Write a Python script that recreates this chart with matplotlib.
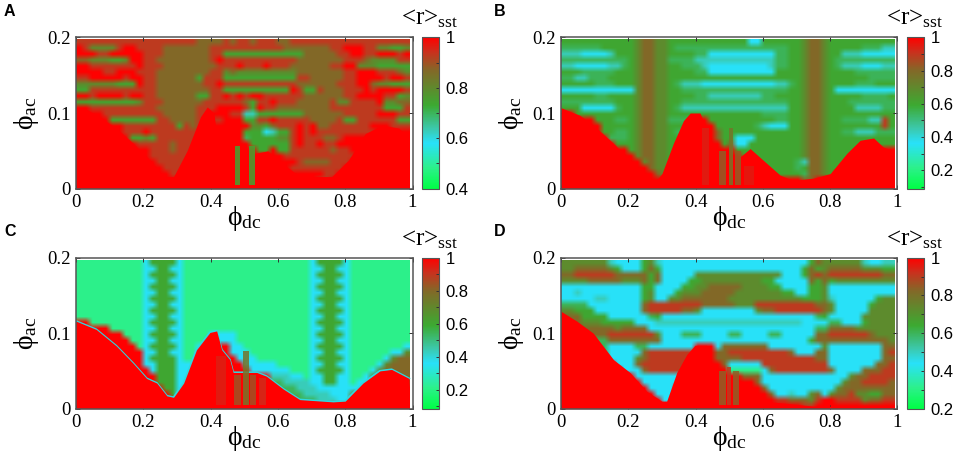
import numpy as np
import matplotlib
matplotlib.use('Agg')
import matplotlib.pyplot as plt
from matplotlib.colors import LinearSegmentedColormap

plt.rcParams['font.family'] = ['Liberation Serif', 'DejaVu Serif']
plt.rcParams['mathtext.fontset'] = 'custom'
plt.rcParams['mathtext.rm'] = 'Liberation Serif'
plt.rcParams['mathtext.it'] = 'Liberation Serif'

# levels, one digit per cell, rows from phi_ac=0.197 down to 0
# each digit is a step on the colour scale (see LEVELS)
LEVELS = [0.0, 0.14, 0.3, 0.38, 0.5, 0.56, 0.66, 0.78, 0.88, 1.0]

grid_a = [
    "8888888888 8888888877 7787887888 7788888888 8888888888",
    "9866668998 8887777777 8888888888 8777777788 9998866556",
    "9998899999 8887777777 8855555555 5555777778 8998899989",
    "7766655699 8877777777 8988888888 8887777777 8887666688",
    "9988888889 8887777777 7888988898 8877777788 9966655555",
    "9999889998 8877777777 8867666666 6667777777 8899988876",
    "8899999899 8877777758 8855555555 5558877777 8899998998",
    "6666665559 8877777778 8988888888 8887777778 8899766555",
    "5588888888 8877777777 8855555555 5598558777 8889899998",
    "9989999899 8877777755 8898989988 8888777777 8899998856",
    "5555555556 8887777778 8888875889 8887777786 6888896677",
    "9988888888 8877777788 8999985988 7777777788 8888885558",
    "9999888888 8887777788 9998833555 5555777777 8888899988",
    "9999955555 5588777788 8899955889 8888877778 5588888855",
    "9999999888 8888858788 9999996657 8889897788 8888999888",
    "9999999888 9888888888 9999955523 5589898888 8888899999",
    "9999999955 6588888889 9999945555 6689888778 9999999999",
    "9999999998 8888788889 9999995555 5589889889 9999999999",
    "9999999999 9888788889 9999999559 5588888878 8999999999",
    "9999999999 9888888999 9999999999 9888888888 8899999999",
    "9999999999 9988888999 9999999999 9998777788 8999999999",
    "9999999999 9998888999 9999999999 9988888888 9999999999",
    "9999999999 9999889999 9999999999 9999999889 9999999999",
    "9999999999 9999999999 9999999999 9999998899 9999999999",
    "9999999999 9999999999 9999999999 9997767779 7999999999",
]

grid_b = [
    "5555555555 5677665555 5555555522 5555556776 5555555555",
    "4444445555 5677665444 4444444444 4444556776 5555544433",
    "3332222355 5677665555 4422222222 2244556776 5533322222",
    "4444444444 5677664444 3333333333 3344556776 5444444444",
    "3322222334 5677665544 4322222222 2344556776 5433322233",
    "5554444455 5677665555 4422222222 2255556776 5555444444",
    "4433444555 5677665555 5555555555 5555556776 5555554444",
    "5555544455 5677665433 3222222222 2233456776 5555444555",
    "2222222222 2677665544 4444444444 4444556776 5222222222",
    "5555544555 5677665555 4433333333 4455556776 5555544445",
    "4444444455 5677665544 4444444444 4444556776 5554444444",
    "5552222245 5677665433 3333333333 3333556776 5555333344",
    "9955555555 5677665555 5555555555 4444556776 5555555555",
    "9999955544 5677664444 9955555555 5544556776 5544443385",
    "9999995555 5677665555 9995555554 3222556776 5555555585",
    "9999995544 5677665444 9997555555 5555556776 5544333444",
    "9999999444 5677665555 9997552225 5555556776 5555555555",
    "9999999955 5677665555 9999572255 5555556776 5555555555",
    "9999999999 5677665555 9999995555 5555556776 5555599999",
    "9999999999 9677665555 9999999555 5555556776 5555999999",
    "9999999999 9967665555 9999999955 5555543776 5559999999",
    "9999999999 9997665555 9999999995 5555545776 5599999999",
    "9999999999 9999765599 9999999999 9555554776 5999999999",
    "9999999999 9999999999 9999999999 9999997799 9999999999",
    "9999999999 9999999999 9999999999 9999999999 9999999989",
]

grid_c = [
    "1111111111 2555521111 1111111111 1111125555 2111111111",
    "1111111111 2255221111 1111111111 1111122552 2111111111",
    "1111111111 2555521111 1111111111 1111125555 2111111111",
    "1111111111 2255221111 1111111111 1111122552 2111111111",
    "1111111111 2555521111 1111111111 1111125555 2111111111",
    "1111111111 2255221111 1111111111 1111122552 2111111111",
    "1111111111 2555521111 1111111111 1111125555 2111111111",
    "1111111111 2255221111 1111111111 1111122552 2111111111",
    "1111111111 2555521111 1111111111 1111125555 2111111111",
    "1111111111 2255221111 1111111111 1111122552 2111111111",
    "9911111111 2555521111 1111111111 1111125555 2111111111",
    "9999911111 2255221111 1111111111 1111122552 2111111111",
    "9999999111 2555521111 2222111111 1111125555 2111111111",
    "9999999911 2255221111 2222111111 1111122552 2111111111",
    "9999999991 2555521122 9992211111 1111125555 2111111112",
    "9999999999 2255221122 9992221111 1111122552 2111111226",
    "9999999999 2555521122 9999222111 1111125555 2111112677",
    "9999999999 2255522222 9999922222 1111122552 2111126777",
    "9999999999 9255522222 9999992222 2211125555 2111267777",
    "9999999999 9955522222 9999999993 3322122552 2112677777",
    "9999999999 9955522222 9999999994 4333322552 2122677777",
    "9999999999 9995522222 9999999999 4443332222 2226799999",
    "9999999999 9999522222 9999999999 9444333322 2669999999",
    "9999999999 9999999999 9999999999 9994443332 2999999999",
    "9999999999 9999999999 9999999999 9999999999 9999999999",
]

grid_d = [
    "6666666322 2256322222 2222222222 2222222576 6666632233",
    "6677777652 2257522222 2222222222 2222225756 7777766655",
    "7788888877 7775722222 6666666666 6662225787 8888888877",
    "6666777776 6675722225 5666666666 5522222757 5666666666",
    "2222222222 2255222255 6677777666 6552222556 2222222222",
    "2232222222 2256222566 6777776666 6665522556 2222222222",
    "2222233222 2256226677 7777766666 6666665556 3222222566",
    "4444222222 2278888888 8777776668 8888888877 6222225666",
    "6655522222 2278888877 6222222226 7788888887 6222226666",
    "7775555222 2224522222 2222222222 2222222245 2222266666",
    "7776665555 5222333333 3333333333 3333332222 4422256666",
    "9977777767 7772222222 2222222222 2222222244 7777666666",
    "9999777888 8888622244 4222244222 2442222277 8888887666",
    "9999744777 7777722222 2222222222 2222222577 7777777776",
    "9999944222 2442222222 9992777777 7222222226 2222222277",
    "9999994222 2278888888 9997788888 8888722277 2222222278",
    "9999999222 2678888888 9997777888 8888888877 2222222277",
    "9999999922 2788888888 9999722222 8888888888 2222222778",
    "9999999992 2278888877 9999911111 2788888888 7222277788",
    "9999999999 9222222229 9999999777 2222222222 2226778888",
    "9999999999 9922222299 9999999997 2222222222 2267788887",
    "9999999999 9992222999 9999999999 7222222222 2677777777",
    "9999999999 9999222999 9999999999 9722322672 6778665577",
    "9999999999 9999922999 9999999999 9988777689 9888867788",
    "9999999999 9999999999 9999999999 9999998899 9999999999",
]

# solid red region, outline read as (phi_dc, phi_ac)
red_x_a = [0, 0.03, 0.07, 0.12, 0.17, 0.22, 0.26, 0.29, 0.33, 0.37, 0.39, 0.41, 0.42, 0.45, 0.57, 0.615, 0.665, 0.76, 0.81, 0.86, 0.91, 0.96, 0.99]
red_y_a = [0.107, 0.105, 0.095, 0.08, 0.06, 0.038, 0.016, 0.016, 0.05, 0.095, 0.108, 0.1, 0.064, 0.04, 0.05, 0.033, 0.016, 0.016, 0.038, 0.073, 0.084, 0.08, 0.064]
red_x_b = [0, 0.056, 0.106, 0.156, 0.205, 0.255, 0.28, 0.30, 0.334, 0.364, 0.384, 0.413, 0.438, 0.453, 0.473, 0.532, 0.562, 0.60, 0.651, 0.69, 0.75, 0.80, 0.85, 0.889, 0.929, 0.958, 0.99]
red_y_b = [0.107, 0.097, 0.08, 0.06, 0.038, 0.018, 0.009, 0.02, 0.06, 0.09, 0.1, 0.1, 0.075, 0.055, 0.05, 0.042, 0.053, 0.038, 0.018, 0.011, 0.014, 0.02, 0.047, 0.064, 0.067, 0.055, 0.05]
red_x_c = [0, 0.06, 0.12, 0.17, 0.21, 0.24, 0.27, 0.29, 0.32, 0.358, 0.398, 0.418, 0.433, 0.457, 0.467, 0.537, 0.566, 0.616, 0.665, 0.764, 0.80, 0.853, 0.903, 0.938, 0.99]
red_y_c = [0.116, 0.105, 0.083, 0.06, 0.04, 0.034, 0.017, 0.015, 0.034, 0.078, 0.101, 0.103, 0.078, 0.065, 0.048, 0.048, 0.043, 0.026, 0.012, 0.009, 0.01, 0.034, 0.05, 0.052, 0.04]
red_x_d = [0, 0.047, 0.096, 0.156, 0.205, 0.255, 0.30, 0.314, 0.344, 0.374, 0.398, 0.433, 0.448, 0.46, 0.522, 0.552, 0.592, 0.65, 0.75, 0.99]
red_y_d = [0.129, 0.116, 0.10, 0.065, 0.048, 0.023, 0.01, 0.01, 0.048, 0.072, 0.084, 0.084, 0.057, 0.048, 0.043, 0.026, 0.01, 0.008, 0.0035, 0.0035]

# narrow columns sitting on the red region: centre, width, top, <r>
spike_x_a = [0.48, 0.522]
spike_w_a = [0.017, 0.017]
spike_top_a = [0.056, 0.056]
spike_val_a = [0.74, 0.74]
spike_x_b = [0.43, 0.48, 0.505, 0.525, 0.56]
spike_w_b = [0.02, 0.018, 0.014, 0.018, 0.03]
spike_top_b = [0.08, 0.05, 0.08, 0.05, 0.03]
spike_val_b = [0.94, 0.82, 0.76, 0.82, 0.95]
spike_x_c = [0.43, 0.48, 0.505, 0.525, 0.555]
spike_w_c = [0.03, 0.018, 0.02, 0.018, 0.02]
spike_top_c = [0.07, 0.045, 0.076, 0.045, 0.04]
spike_val_c = [0.94, 0.84, 0.76, 0.84, 0.92]
spike_x_d = [0.48, 0.52, 0.50]
spike_w_d = [0.018, 0.018, 0.012]
spike_top_d = [0.05, 0.05, 0.055]
spike_val_d = [0.84, 0.84, 0.9]

panel_labels = ['A', 'B', 'C', 'D']
r_min = [0.4, 0.09, 0.085, 0.2]
cbar_ticks = [[0.4, 0.6, 0.8, 1], [0.2, 0.4, 0.6, 0.8, 1], [0.2, 0.4, 0.6, 0.8, 1], [0.2, 0.4, 0.6, 0.8, 1]]
x_ticks = [0, 0.2, 0.4, 0.6, 0.8, 1]
y_ticks = [0, 0.1, 0.2]

cmap = LinearSegmentedColormap.from_list('rsst', [
    (0.0, '#00ff46'), (0.14, '#2df08c'), (0.3, '#28e1fa'), (0.4, '#3cc8aa'),
    (0.55, '#3caa32'), (0.78, '#826928'), (0.9, '#c8321e'), (1.0, '#ff0000')])


def parse_grid(rows):
    cells = [r.replace(' ', '').ljust(50, r[-1])[:50] for r in rows]
    return np.array([[LEVELS[int(c)] for c in row] for row in cells])


def tick_label(v):
    return f'{v:g}'


fig = plt.figure(figsize=(9.57, 4.53), dpi=100)
W, H = 957.0, 453.0
lefts = [76, 561, 76, 561]
tops = [37.3, 37.3, 257.7, 257.7]
bottoms = [188.7, 188.7, 408.7, 408.7]
cb_lefts = [421.7, 906.7, 421.7, 906.7]

grids = [grid_a, grid_b, grid_c, grid_d]
reds = [(red_x_a, red_y_a), (red_x_b, red_y_b), (red_x_c, red_y_c), (red_x_d, red_y_d)]
spikes = [(spike_x_a, spike_w_a, spike_top_a, spike_val_a),
          (spike_x_b, spike_w_b, spike_top_b, spike_val_b),
          (spike_x_c, spike_w_c, spike_top_c, spike_val_c),
          (spike_x_d, spike_w_d, spike_top_d, spike_val_d)]
label_xy = [(4, 11), (494, 11), (4, 231), (494, 231)]

for n in range(4):
    ax = fig.add_axes([lefts[n] / W, 1 - bottoms[n] / H, 336.5 / W, (bottoms[n] - tops[n]) / H])
    lo = r_min[n]
    values = lo + parse_grid(grids[n]) * (1 - lo)
    im = ax.imshow(values, extent=[0, 0.992, 0, 0.197], aspect='auto', cmap=cmap, vmin=lo, vmax=1,
                   interpolation='bilinear', interpolation_stage='rgba', zorder=1)
    rx, ry = reds[n]
    if n == 2:
        ax.plot(rx, ry, color='#30d8e0', lw=1.5, zorder=2)
    ax.fill_between(rx, 0, ry, color='#ff0000', lw=0, zorder=3)
    sx, sw, st, sv = spikes[n]
    ax.bar(sx, np.array(st) - 0.005, bottom=0.005, width=sw, color=cmap((np.array(sv) - lo) / (1 - lo)),
           alpha=0.85, zorder=4)

    ax.set_xlim(0, 1)
    ax.set_ylim(0, 0.2)
    ax.set_xticks(x_ticks)
    ax.set_xticklabels([tick_label(v) for v in x_ticks], fontfamily='Liberation Serif', fontsize=13.5)
    ax.set_yticks(y_ticks)
    ax.set_yticklabels([tick_label(v) for v in y_ticks], fontfamily='Liberation Serif', fontsize=13.5)
    ax.tick_params(direction='in', top=True, right=True, length=3, width=0.7, color='#333333', pad=4)
    for s in ax.spines.values():
        s.set_color('#555555')
        s.set_linewidth(1.1)
        s.set_zorder(7)
    ax.set_xlabel(r'$\mathregular{\phi_{dc}}$', fontsize=20, labelpad=-5)
    ax.set_ylabel(r'$\mathregular{\phi_{ac}}$', fontsize=20, labelpad=4)

    cax = fig.add_axes([cb_lefts[n] / W, 1 - bottoms[n] / H, 17 / W, (bottoms[n] - tops[n]) / H])
    cb = fig.colorbar(im, cax=cax)
    cb.set_ticks(cbar_ticks[n])
    cb.set_ticklabels([tick_label(v) for v in cbar_ticks[n]], family='Liberation Sans', fontsize=12)
    cb.ax.minorticks_on()
    cb.ax.yaxis.set_minor_locator(plt.MultipleLocator(0.1))
    cb.ax.tick_params(which='both', direction='in', length=2.5, width=0.7, color='#333333', pad=5)
    cb.outline.set_edgecolor('#555555')
    cb.outline.set_linewidth(0.8)

    fig.text((cb_lefts[n] + 8) / W, 1 - (tops[n] - 7) / H, r'<r>$\mathregular{_{sst}}$',
             fontsize=18, ha='center', va='bottom')
    fig.text(label_xy[n][0] / W, 1 - label_xy[n][1] / H, panel_labels[n], family='Liberation Sans',
             fontweight='bold', fontsize=11.5, ha='left', va='center')

fig.savefig('out.png', dpi=100)
